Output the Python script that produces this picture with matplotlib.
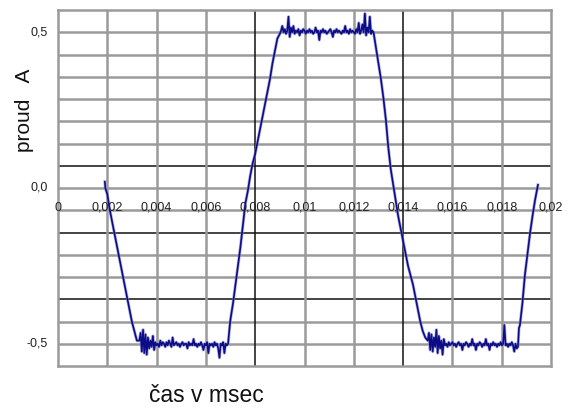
import numpy as np
import matplotlib
matplotlib.use("Agg")
import matplotlib.pyplot as plt

plt.rcParams['font.family'] = ['Liberation Sans', 'DejaVu Sans']

# --- measured current waveform (time in s, current in A) ---
ramp1_t = [0.0019, 0.00192, 0.0020, 0.0021, 0.0022, 0.0023, 0.0024, 0.0025, 0.0026,
           0.0027, 0.0028, 0.0029, 0.0030, 0.0031, 0.0032]
ramp1_i = [0.02, 0.0, -0.02, -0.07, -0.11, -0.15, -0.19, -0.23, -0.27,
           -0.31, -0.35, -0.39, -0.43, -0.46, -0.49]

low1_span = (0.0033, 0.0069)
low1_i = [-0.49, -0.465, -0.525, -0.455, -0.53, -0.47, -0.535, -0.48, -0.515, -0.49, -0.51,
          -0.475, -0.52, -0.495, -0.505, -0.50, -0.51, -0.49, -0.505, -0.495, -0.50, -0.51,
          -0.495, -0.505, -0.49, -0.50, -0.51, -0.48, -0.505, -0.50, -0.495, -0.505, -0.50,
          -0.51, -0.50, -0.495, -0.505, -0.50, -0.50, -0.515, -0.495, -0.505, -0.50, -0.505,
          -0.485, -0.505, -0.50, -0.51, -0.50, -0.505, -0.495, -0.505, -0.52, -0.50, -0.505,
          -0.495, -0.53, -0.50, -0.505, -0.50, -0.51, -0.495, -0.505, -0.50, -0.515, -0.545,
          -0.50, -0.505, -0.495, -0.53, -0.50, -0.505, -0.50]

rise_t = [0.00697, 0.0070, 0.0071, 0.0072, 0.0073, 0.0074, 0.0075, 0.0076, 0.0077, 0.0078,
          0.0079, 0.0080, 0.0081, 0.0082, 0.0083, 0.0084, 0.0085, 0.0086, 0.0087, 0.0088,
          0.0089]
rise_i = [-0.44, -0.42, -0.37, -0.31, -0.25, -0.19, -0.12, -0.05, -0.01, 0.04,
          0.08, 0.11, 0.15, 0.19, 0.23, 0.27, 0.31, 0.35, 0.40, 0.44,
          0.48]

high_span = (0.0090, 0.0128)
high_i = [0.495, 0.505, 0.52, 0.50, 0.51, 0.495, 0.505, 0.55, 0.485, 0.515, 0.50, 0.52,
          0.495, 0.505, 0.50, 0.51, 0.49, 0.505, 0.50, 0.51, 0.505, 0.495, 0.505, 0.50,
          0.51, 0.50, 0.505, 0.495, 0.50, 0.515, 0.50, 0.505, 0.475, 0.505, 0.50, 0.51,
          0.50, 0.505, 0.495, 0.50, 0.505, 0.51, 0.50, 0.485, 0.505, 0.50, 0.51, 0.50,
          0.505, 0.50, 0.495, 0.505, 0.50, 0.52, 0.50, 0.505, 0.495, 0.51, 0.50, 0.505,
          0.50, 0.495, 0.51, 0.50, 0.53, 0.495, 0.505, 0.525, 0.50, 0.56, 0.49, 0.515,
          0.50, 0.55, 0.495, 0.505, 0.50]

fall_t = [0.0129, 0.0130, 0.0131, 0.0132, 0.0133, 0.0134, 0.0135, 0.0136, 0.0137, 0.0138,
          0.0139, 0.0140, 0.0141, 0.0142, 0.0143, 0.0144, 0.0145, 0.0146, 0.0147, 0.0148,
          0.0149]
fall_i = [0.45, 0.40, 0.35, 0.29, 0.22, 0.13, 0.06, 0.01, -0.04, -0.09,
          -0.13, -0.17, -0.21, -0.25, -0.28, -0.31, -0.35, -0.39, -0.43, -0.46,
          -0.48]

low2_span = (0.0150, 0.01866)
low2_i = [-0.49, -0.465, -0.52, -0.47, -0.525, -0.48, -0.51, -0.455, -0.53, -0.475, -0.515,
          -0.49, -0.535, -0.485, -0.505, -0.50, -0.51, -0.495, -0.505, -0.50, -0.495, -0.505,
          -0.50, -0.51, -0.50, -0.495, -0.505, -0.50, -0.52, -0.50, -0.505, -0.495, -0.50,
          -0.51, -0.50, -0.505, -0.485, -0.505, -0.50, -0.52, -0.50, -0.505, -0.495, -0.50,
          -0.51, -0.50, -0.505, -0.485, -0.505, -0.50, -0.52, -0.50, -0.505, -0.495, -0.505,
          -0.50, -0.51, -0.50, -0.505, -0.495, -0.505, -0.50, -0.44, -0.505, -0.50, -0.51,
          -0.50, -0.505, -0.495, -0.505, -0.525, -0.50, -0.515, -0.51]

ramp2_t = [0.01870, 0.01874, 0.01884, 0.01894, 0.01905, 0.01915, 0.01925, 0.01935, 0.01947]
ramp2_i = [-0.45, -0.44, -0.37, -0.28, -0.21, -0.145, -0.09, -0.04, 0.01]

x_tick_vals = [0, 0.002, 0.004, 0.006, 0.008, 0.010, 0.012, 0.014, 0.016, 0.018, 0.020]
x_tick_text = ["0", "0,002", "0,004", "0,006", "0,008", "0,01", "0,012", "0,014",
               "0,016", "0,018", "0,02"]
y_tick_vals = [0.5, 0.0, -0.5]
y_tick_text = ["0,5", "0,0", "-0,5"]

# assemble the trace
t = np.concatenate([
    ramp1_t,
    np.linspace(*low1_span, len(low1_i)),
    rise_t,
    np.linspace(*high_span, len(high_i)),
    fall_t,
    np.linspace(*low2_span, len(low2_i)),
    ramp2_t,
])
i = np.concatenate([ramp1_i, low1_i, rise_i, high_i, fall_i, low2_i, ramp2_i])

fig = plt.figure(figsize=(5.76, 4.08), dpi=100)
ax = fig.add_axes([58 / 576, 1 - 366 / 408, (551 - 58) / 576, (366 - 10) / 408])

step = 0.5 / 7
ax.set_xlim(0, 0.02)
ax.set_ylim(-8 * step, 8 * step)

grey = "#9a9a9a"
dark_h = {1, -2, -5}
for k in range(-7, 8):
    y = k * step
    if k in dark_h:
        ax.axhline(y, color="#111111", lw=1.1, zorder=1)
    else:
        ax.axhline(y, color=grey, lw=1.8, zorder=1)
for xv in x_tick_vals[1:-1]:
    if abs(xv - 0.008) < 1e-9 or abs(xv - 0.014) < 1e-9:
        ax.axvline(xv, color="#111111", lw=1.1, zorder=1)
    else:
        ax.axvline(xv, color=grey, lw=1.8, zorder=1)

for s in ax.spines.values():
    s.set_color(grey)
    s.set_linewidth(1.8)
ax.set_xticks([])
ax.set_yticks([])

# trace: soft halo plus darker core
ax.plot(t, i, color="#8a8ad0", lw=2.2, alpha=0.7, zorder=3, solid_joinstyle="round")
ax.plot(t, i, color="#0c0c86", lw=1.2, zorder=4, solid_joinstyle="round")

# x labels along the zero line
for xv, txt in zip(x_tick_vals, x_tick_text):
    ax.text(xv, -0.064, txt, ha="center", va="center", fontsize=9, color="#222222",
            clip_on=False, zorder=5)

for yv, txt in zip(y_tick_vals, y_tick_text):
    ax.text(-0.0004, yv, txt, ha="right", va="center", fontsize=9, color="#222222",
            clip_on=False)

fig.text(25 / 576, 1 - 110 / 408, "proud   A", rotation=90, ha="center", va="center",
         fontsize=15, color="#111111")
fig.text(206 / 576, 1 - 395 / 408, "čas v msec", ha="center", va="center",
         fontsize=16.5, color="#111111")

fig.savefig("out.png", dpi=100)
